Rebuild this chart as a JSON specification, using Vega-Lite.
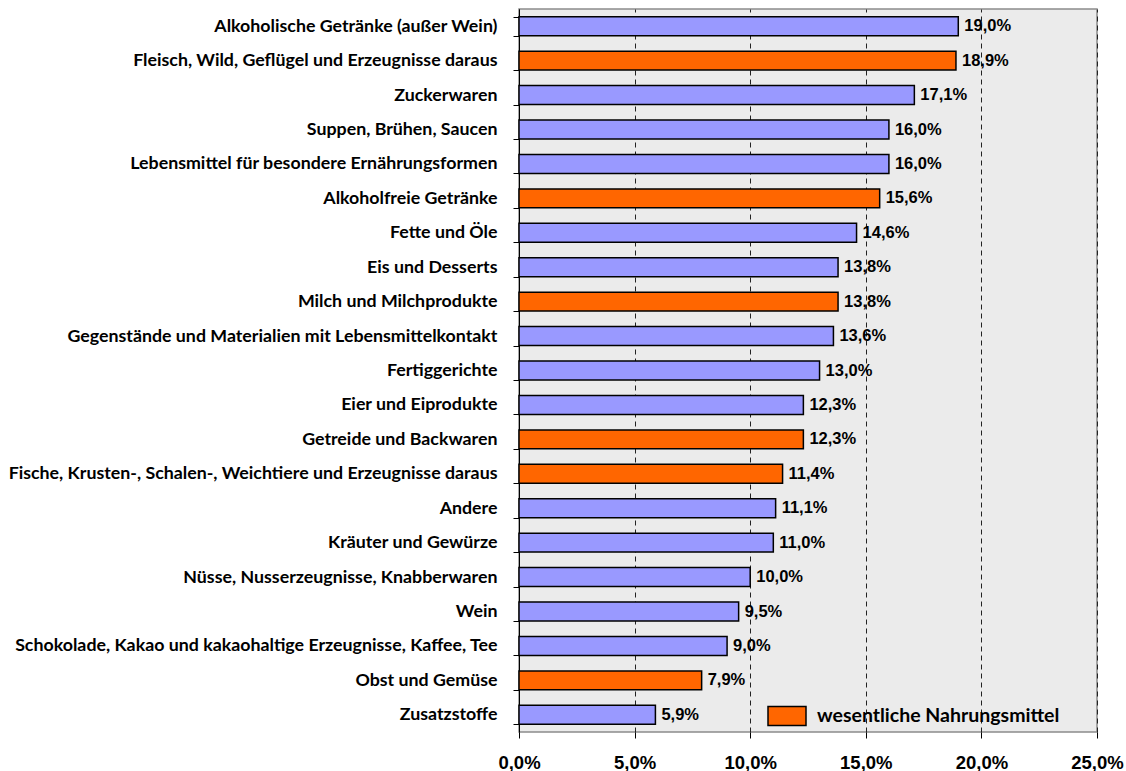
{
  "$schema": "https://vega.github.io/schema/vega-lite/v6.json",
  "width": 578,
  "height": 723,
  "autosize": {"type": "none"},
  "padding": {"left": 519, "top": 9, "right": 29, "bottom": 39},
  "background": "white",
  "config": {
    "view": {"fill": "#ebebeb", "stroke": "#8c8c8c", "strokeWidth": 1.5}
  },
  "data": {
    "values": [
      {"kategorie": "Alkoholische Getränke (außer Wein)", "anteil": 19.0, "gruppe": "sonstige"},
      {"kategorie": "Fleisch, Wild, Geflügel und Erzeugnisse daraus", "anteil": 18.9, "gruppe": "wesentliche Nahrungsmittel"},
      {"kategorie": "Zuckerwaren", "anteil": 17.1, "gruppe": "sonstige"},
      {"kategorie": "Suppen, Brühen, Saucen", "anteil": 16.0, "gruppe": "sonstige"},
      {"kategorie": "Lebensmittel für besondere Ernährungsformen", "anteil": 16.0, "gruppe": "sonstige"},
      {"kategorie": "Alkoholfreie Getränke", "anteil": 15.6, "gruppe": "wesentliche Nahrungsmittel"},
      {"kategorie": "Fette und Öle", "anteil": 14.6, "gruppe": "sonstige"},
      {"kategorie": "Eis und Desserts", "anteil": 13.8, "gruppe": "sonstige"},
      {"kategorie": "Milch und Milchprodukte", "anteil": 13.8, "gruppe": "wesentliche Nahrungsmittel"},
      {"kategorie": "Gegenstände und Materialien mit Lebensmittelkontakt", "anteil": 13.6, "gruppe": "sonstige"},
      {"kategorie": "Fertiggerichte", "anteil": 13.0, "gruppe": "sonstige"},
      {"kategorie": "Eier und Eiprodukte", "anteil": 12.3, "gruppe": "sonstige"},
      {"kategorie": "Getreide und Backwaren", "anteil": 12.3, "gruppe": "wesentliche Nahrungsmittel"},
      {"kategorie": "Fische, Krusten-, Schalen-, Weichtiere und Erzeugnisse daraus", "anteil": 11.4, "gruppe": "wesentliche Nahrungsmittel"},
      {"kategorie": "Andere", "anteil": 11.1, "gruppe": "sonstige"},
      {"kategorie": "Kräuter und Gewürze", "anteil": 11.0, "gruppe": "sonstige"},
      {"kategorie": "Nüsse, Nusserzeugnisse, Knabberwaren", "anteil": 10.0, "gruppe": "sonstige"},
      {"kategorie": "Wein", "anteil": 9.5, "gruppe": "sonstige"},
      {"kategorie": "Schokolade, Kakao und kakaohaltige Erzeugnisse, Kaffee, Tee", "anteil": 9.0, "gruppe": "sonstige"},
      {"kategorie": "Obst und Gemüse", "anteil": 7.9, "gruppe": "wesentliche Nahrungsmittel"},
      {"kategorie": "Zusatzstoffe", "anteil": 5.9, "gruppe": "sonstige"}
    ]
  },
  "encoding": {
    "y": {
      "field": "kategorie",
      "type": "nominal",
      "sort": null,
      "scale": {"paddingInner": 0.45, "paddingOuter": 0.225},
      "axis": {
        "title": null,
        "tickBand": "extent",
        "tickSize": 6,
        "tickColor": "black",
        "domainColor": "black",
        "labelPadding": 16,
        "labelFont": "Lato",
        "labelFontWeight": "bold",
        "labelFontSize": 17.8,
        "labelColor": "black",
        "labelLimit": 600
      }
    }
  },
  "layer": [
    {
      "mark": {"type": "bar", "stroke": "black", "strokeWidth": 1.5},
      "encoding": {
        "x": {
          "field": "anteil",
          "type": "quantitative",
          "scale": {"domain": [0, 25], "nice": false},
          "axis": {
            "title": null,
            "values": [0, 5, 10, 15, 20, 25],
            "labelExpr": "replace(format(datum.value, '.1f'), '.', ',') + '%'",
            "tickSize": 6,
            "tickColor": "black",
            "domain": false,
            "labelPadding": 15,
            "labelFont": "Liberation Sans",
            "labelFontWeight": "bold",
            "labelFontSize": 18.5,
            "labelColor": "black",
            "labelFlush": false,
            "grid": true,
            "gridColor": "#222222",
            "gridDash": [5, 4],
            "gridWidth": 1
          }
        },
        "color": {
          "field": "gruppe",
          "type": "nominal",
          "scale": {
            "domain": ["wesentliche Nahrungsmittel", "sonstige"],
            "range": ["#ff6600", "#9999ff"]
          },
          "legend": {
            "title": null,
            "values": ["wesentliche Nahrungsmittel"],
            "orient": "none",
            "legendX": 248,
            "legendY": 687,
            "symbolType": "M-1,-0.5H1V0.5H-1Z",
            "symbolSize": 1444,
            "symbolStrokeColor": "black",
            "symbolStrokeWidth": 1.5,
            "symbolOpacity": 1,
            "labelFont": "Lato",
            "labelFontWeight": "bold",
            "labelFontSize": 19.5,
            "labelColor": "black",
            "labelOffset": 10,
            "labelLimit": 400
          }
        }
      }
    },
    {
      "mark": {
        "type": "text",
        "align": "left",
        "baseline": "middle",
        "dx": 6,
        "font": "Liberation Sans",
        "fontWeight": "bold",
        "fontSize": 16.5,
        "color": "black",
        "text": {"expr": "replace(format(datum.anteil, '.1f'), '.', ',') + '%'"}
      },
      "encoding": {
        "x": {"field": "anteil", "type": "quantitative"}
      }
    }
  ]
}
